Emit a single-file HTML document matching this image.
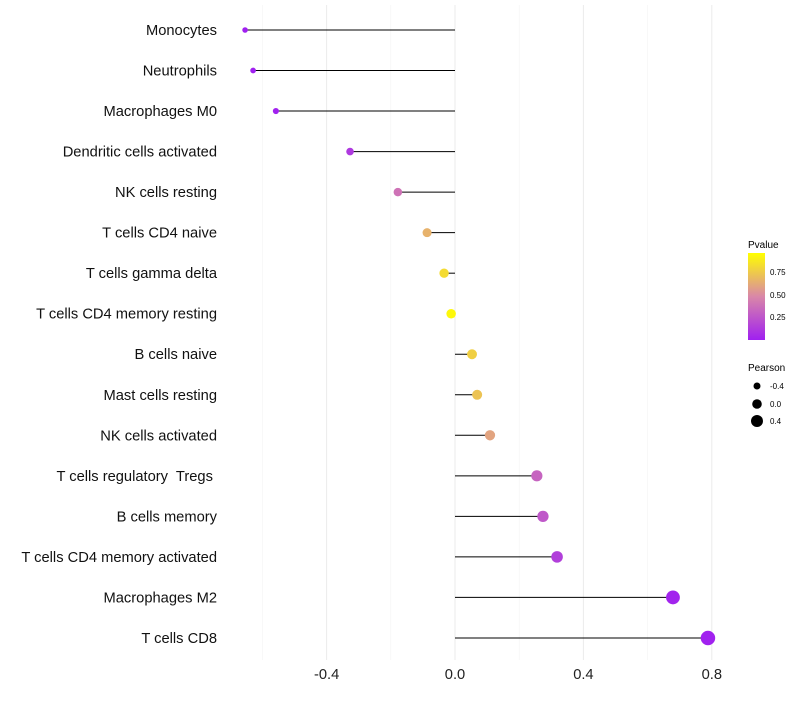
<!DOCTYPE html>
<html><head><meta charset="utf-8"><style>
body{margin:0;background:#fff;font-family:"Liberation Sans",sans-serif}
#ylabels text{white-space:pre}
</style></head><body>
<svg id="chart" width="800" height="700" xmlns="http://www.w3.org/2000/svg">
<defs><linearGradient id="pg" x1="0" y1="1" x2="0" y2="0">
<stop offset="0" stop-color="#a020f0"/><stop offset="0.5" stop-color="#d987a8"/><stop offset="1" stop-color="#ffff00"/>
</linearGradient></defs>
<g id="grid"></g><g id="marks"></g><g id="ylabels"></g><g id="xlabels"></g>
<g id="legend">
<text x="748" y="248" font-size="10">Pvalue</text>
<rect x="748" y="253" width="17" height="87" fill="url(#pg)"/>
<text x="770" y="275" font-size="8">0.75</text>
<text x="770" y="298" font-size="8">0.50</text>
<text x="770" y="320" font-size="8">0.25</text>
<text x="748" y="371" font-size="10">Pearson</text>
<circle cx="757" cy="386" r="3.5" fill="#000"/>
<circle cx="757" cy="404" r="4.8" fill="#000"/>
<circle cx="757" cy="421" r="6" fill="#000"/>
<text x="770" y="389" font-size="8">-0.4</text>
<text x="770" y="407" font-size="8">0.0</text>
<text x="770" y="424" font-size="8">0.4</text>
</g>
</svg>
<script>
const categories=["Monocytes","Neutrophils","Macrophages M0","Dendritic cells activated","NK cells resting","T cells CD4 naive","T cells gamma delta","T cells CD4 memory resting","B cells naive","Mast cells resting","NK cells activated","T cells regulatory  Tregs ","B cells memory","T cells CD4 memory activated","Macrophages M2","T cells CD8"];
const pearson=[-0.654,-0.629,-0.558,-0.327,-0.178,-0.087,-0.034,-0.012,0.053,0.069,0.109,0.255,0.274,0.318,0.679,0.788];
const pvalue=[0.001,0.002,0.01,0.12,0.4,0.68,0.85,0.97,0.8,0.75,0.62,0.33,0.27,0.15,0.02,0.01];
const xTicks=[-0.4,0,0.4,0.8];
const xTickLabels=["-0.4","0.0","0.4","0.8"];
const xMinor=[-0.6,-0.2,0.2,0.6];
const NS="http://www.w3.org/2000/svg";
const X=v=>455+v*321;
const Y=i=>30+i*40.53;
const R=v=>4.8+v*3.1;
function lerp(a,b,t){return a.map((c,i)=>Math.round(c+(b[i]-c)*t));}
function col(p){const s=[[160,32,240],[217,135,168],[255,255,0]];const c=p<0.5?lerp(s[0],s[1],p/0.5):lerp(s[1],s[2],(p-0.5)/0.5);return `rgb(${c})`;}
function mk(tag,at,par){const e=document.createElementNS(NS,tag);for(const k in at)e.setAttribute(k,at[k]);document.getElementById(par).appendChild(e);return e;}
xMinor.forEach(v=>{const l=mk("line",{x1:X(v),x2:X(v),y1:5,y2:660,stroke:"#f3f3f3","stroke-width":0.6},"grid");

});
xTicks.forEach((v,i)=>{const l=mk("line",{x1:X(v),x2:X(v),y1:5,y2:660,stroke:"#ebebeb","stroke-width":1},"grid");


const t=mk("text",{x:X(v),y:679,"font-size":14.7,"text-anchor":"middle",fill:"#222"},"xlabels");t.textContent=xTickLabels[i];

});
categories.forEach((c,i)=>{
const l=mk("line",{x1:X(0),x2:X(pearson[i]),y1:Y(i),y2:Y(i),stroke:"#000","stroke-width":1},"marks");


const d=mk("circle",{cx:X(pearson[i]),cy:Y(i),r:R(pearson[i]),fill:col(pvalue[i])},"marks");


const t=mk("text",{x:217,y:Y(i)+5,"font-size":14.7,"text-anchor":"end",fill:"#111"},"ylabels");t.textContent=c;


});
</script>
</body></html>
